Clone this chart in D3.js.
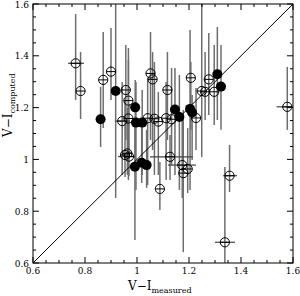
<!DOCTYPE html>
<html><head><meta charset="utf-8">
<script src="https://cdn.jsdelivr.net/npm/d3@7"></script>
<style>body{margin:0;background:#fff}svg{display:block}</style>
</head><body>
<script>
// Open circles
const openX   = [0.764,0.783,0.870,0.900,0.957,0.967,0.943,0.967,1.041,1.067,1.082,1.052,1.060,1.117,1.112,1.133,1.207,1.276,1.249,1.262,1.297,1.227,1.578,0.954,0.963,0.969,1.127,1.174,1.195,1.178,1.088,1.356,1.338];
const openY   = [1.371,1.264,1.307,1.339,1.268,1.227,1.148,1.158,1.159,1.157,1.146,1.332,1.309,1.268,1.159,1.155,1.315,1.309,1.264,1.261,1.261,1.160,1.203,1.017,1.023,1.011,1.010,0.978,0.963,0.947,0.886,0.937,0.680];
const openYlo = [1.229,1.156,1.121,1.229,1.075,1.036,0.940,0.920,0.901,0.940,0.940,1.075,1.036,1.075,0.920,0.978,1.114,1.171,1.009,1.152,1.133,1.036,1.114,0.932,0.940,0.935,0.920,0.851,0.870,0.642,0.805,0.874,0.600];
const openYhi = [1.561,1.415,1.492,1.507,1.442,1.430,1.299,1.384,1.314,1.376,1.260,1.492,1.415,1.415,1.299,1.353,1.376,1.488,1.600,1.415,1.442,1.276,1.357,1.229,1.200,1.215,1.094,1.152,1.121,1.191,0.990,1.056,0.971];
const openXlo = [0.735,null,null,null,null,null,0.915,null,null,null,null,null,null,null,null,null,null,null,null,null,null,null,1.537,null,null,0.927,1.050,1.119,null,null,null,1.331,1.300];
const openXhi = [0.796,null,null,null,null,null,0.973,null,null,null,null,null,null,null,null,null,null,null,null,null,null,null,1.619,null,null,0.992,1.215,1.227,null,null,null,1.385,1.377];
// Filled circles
const filledX   = [0.860,0.918,0.993,0.996,1.020,1.146,1.163,1.204,1.212,1.309,1.323,0.992,1.018,1.037];
const filledY   = [1.155,1.264,1.201,1.142,1.142,1.193,1.164,1.195,1.181,1.329,1.281,0.972,0.987,0.978];
const filledYlo = [1.048,0.851,0.978,0.882,0.940,0.940,0.882,0.882,0.998,1.152,1.114,0.689,0.909,0.890];
const filledYhi = [1.280,1.600,1.307,1.299,1.268,1.353,1.326,1.500,1.249,1.511,1.442,1.152,1.152,1.114];
// Ticks
const majorTicks = [0.6,0.8,1.0,1.2,1.4,1.6];
const tickLabels = ["0.6","0.8","1","1.2","1.4","1.6"];
const minorTicks = d3.range(0.6,1.6001,0.05);

const W=300,H=296, L=33,R=293,T=4,B=263;
const x=d3.scaleLinear().domain([0.6,1.6]).range([L,R]);
const y=d3.scaleLinear().domain([0.6,1.6]).range([B,T]);
const svg=d3.select("body").append("svg").attr("width",W).attr("height",H);
svg.append("defs").append("clipPath").attr("id","clip").append("rect")
  .attr("x",L).attr("y",T).attr("width",R-L).attr("height",B-T);
const g=svg.append("g").attr("clip-path","url(#clip)");
const barCol="#6e6e6e";

const openData=openX.map((v,i)=>({x:v,y:openY[i],lo:openYlo[i],hi:openYhi[i],xl:openXlo[i],xh:openXhi[i]}));
const filledData=filledX.map((v,i)=>({x:v,y:filledY[i],lo:filledYlo[i],hi:filledYhi[i]}));

// vertical error bars
g.selectAll(".vb").data(openData.concat(filledData)).enter().append("line")
  .attr("x1",d=>x(d.x)).attr("x2",d=>x(d.x)).attr("y1",d=>y(d.lo)).attr("y2",d=>y(d.hi))
  .attr("stroke",barCol).attr("stroke-width",1.5);
// horizontal error bars
g.selectAll(".hb").data(openData.filter(d=>d.xl!==null)).enter().append("line")
  .attr("x1",d=>x(d.xl)).attr("x2",d=>x(d.xh)).attr("y1",d=>y(d.y)).attr("y2",d=>y(d.y))
  .attr("stroke","#444").attr("stroke-width",1.2);
// diagonal
g.append("line").attr("x1",x(0.6)).attr("y1",y(0.6)).attr("x2",x(1.6)).attr("y2",y(1.6))
  .attr("stroke","#000").attr("stroke-width",1);
// open markers
const r=4.6;
const om=g.selectAll(".om").data(openData).enter().append("g")
  .attr("transform",d=>`translate(${x(d.x)},${y(d.y)})`);
om.append("circle").attr("r",r).attr("fill","none").attr("stroke","#000").attr("stroke-width",1);
om.append("line").attr("x1",-r).attr("x2",r).attr("stroke","#000").attr("stroke-width",1);
// filled markers
g.selectAll(".fm").data(filledData).enter().append("circle")
  .attr("cx",d=>x(d.x)).attr("cy",d=>y(d.y)).attr("r",5).attr("fill","#000");

// frame
svg.append("rect").attr("x",L).attr("y",T).attr("width",R-L).attr("height",B-T)
  .attr("fill","none").attr("stroke","#000").attr("stroke-width",1);
// ticks
const isMajor=v=>majorTicks.some(m=>Math.abs(m-v)<1e-6);
const tk=svg.append("g").attr("stroke","#000").attr("stroke-width",1);
minorTicks.forEach(v=>{
  const len=isMajor(v)?6:3;
  tk.append("line").attr("x1",x(v)).attr("x2",x(v)).attr("y1",B).attr("y2",B-len);
  tk.append("line").attr("x1",x(v)).attr("x2",x(v)).attr("y1",T).attr("y2",T+len);
  tk.append("line").attr("y1",y(v)).attr("y2",y(v)).attr("x1",L).attr("x2",L+len);
  tk.append("line").attr("y1",y(v)).attr("y2",y(v)).attr("x1",R).attr("x2",R-len);
});
const font="'DejaVu Serif', serif";
majorTicks.forEach((v,i)=>{
  svg.append("text").attr("x",x(v)).attr("y",B+11).attr("text-anchor","middle")
    .attr("font-family",font).attr("font-size",9).text(tickLabels[i]);
  svg.append("text").attr("x",L-4).attr("y",y(v)+3.5).attr("text-anchor","end")
    .attr("font-family",font).attr("font-size",9).text(tickLabels[i]);
});
// axis titles
const xt=svg.append("text").attr("x",128).attr("y",290).attr("font-family",font).attr("font-size",12);
xt.append("tspan").text("V\u2212I");
xt.append("tspan").attr("dy",3).attr("font-size",8).text("measured");
const yt=svg.append("text").attr("transform","translate(12,137) rotate(-90)").attr("font-family",font).attr("font-size",12);
yt.append("tspan").text("V\u2212I");
yt.append("tspan").attr("dy",3).attr("font-size",8).text("computed");
</script>
</body></html>
